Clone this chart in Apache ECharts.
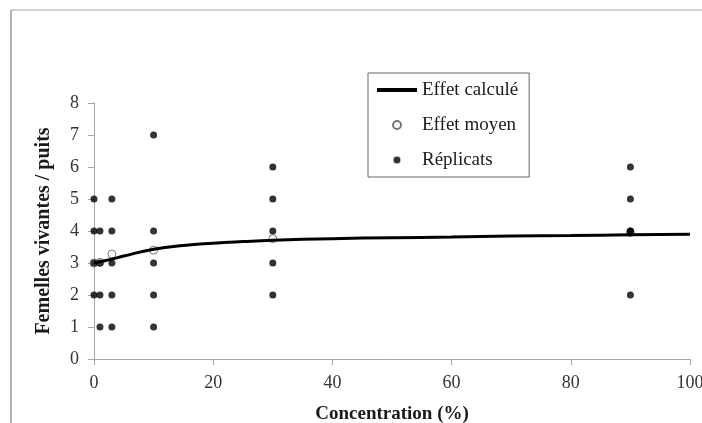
<!DOCTYPE html>
<html lang="fr">
<head>
    <meta charset="UTF-8">
    <title>Femelles vivantes / puits</title>
    <script src="https://cdn.jsdelivr.net/npm/echarts@6/dist/echarts.min.js"></script>
</head>
<body style="margin:0;background:#fff;">
<div id="main" style="width: 702px;height:423px;"></div>
<script type="text/javascript">
    // concentrations testées (%)
    var concentrations = [0, 1, 3, 10, 30, 90];
    // réplicats lus pour chaque concentration
    var rep0 = [5, 4, 3, 2];
    var rep1 = [4, 3, 2, 1];
    var rep3 = [5, 4, 3, 2, 1];
    var rep10 = [7, 4, 3, 2, 1];
    var rep30 = [6, 5, 4, 3, 2];
    var rep90 = [6, 5, 4, 4, 2];
    var replicats = [rep0, rep1, rep3, rep10, rep30, rep90];
    // effet moyen
    var moyennes = [3.0, 3.02, 3.28, 3.4, 3.76, 3.95];
    // effet calculé (courbe)
    var courbeX = [0, 1, 3, 5, 10, 15, 20, 25, 30, 40, 50, 60, 70, 80, 90, 100];
    var courbeY = [3.0, 3.04, 3.12, 3.22, 3.43, 3.55, 3.62, 3.67, 3.71, 3.76, 3.79, 3.81, 3.84, 3.86, 3.88, 3.9];
    var yTicks = [0, 1, 2, 3, 4, 5, 6, 7, 8];
    var xTicks = [0, 20, 40, 60, 80, 100];

    var repData = [];
    for (var i = 0; i < concentrations.length; i++) {
        for (var j = 0; j < replicats[i].length; j++) {
            repData.push([concentrations[i], replicats[i][j]]);
        }
    }
    var moyData = [];
    for (var i = 0; i < concentrations.length; i++) {
        moyData.push([concentrations[i], moyennes[i]]);
    }
    var courbeData = [];
    for (var i = 0; i < courbeX.length; i++) {
        courbeData.push([courbeX[i], courbeY[i]]);
    }

    var serif = '"Liberation Serif", "DejaVu Serif", serif';
    var myChart = echarts.init(document.getElementById('main'), null, {renderer: 'canvas'});
    myChart.setOption({
        animation: false,
        backgroundColor: '#fff',
        grid: {left: 94, right: 12, top: 103, bottom: 64, outerBoundsMode: 'none', containLabel: false},
        graphic: [
            {type: 'line', shape: {x1: 11, y1: 10, x2: 702, y2: 10}, style: {stroke: '#c4c4c4', lineWidth: 1.5}},
            {type: 'line', shape: {x1: 11, y1: 10, x2: 11, y2: 423}, style: {stroke: '#9a9a9a', lineWidth: 1.5}}
        ],
        legend: {
            orient: 'vertical',
            left: 368,
            top: 73,
            padding: [7, 11, 7, 9],
            borderColor: '#666',
            borderWidth: 1,
            itemGap: 15,
            itemWidth: 40,
            itemHeight: 8,
            symbolKeepAspect: true,
            textStyle: {fontFamily: serif, fontSize: 19, color: '#1a1a1a', lineHeight: 20},
            data: [
                {name: 'Effet calculé', icon: 'path://M0,0L40,0L40,4L0,4Z'},
                {name: 'Effet moyen', icon: 'circle'},
                {name: 'Réplicats', icon: 'circle', itemStyle: {borderColor: '#fff', borderWidth: 1}}
            ]
        },
        xAxis: {
            type: 'value',
            min: xTicks[0],
            max: xTicks[xTicks.length - 1],
            interval: 20,
            name: 'Concentration (%)',
            nameLocation: 'middle',
            nameGap: 46,
            nameTextStyle: {fontFamily: serif, fontSize: 19, fontWeight: 'bold', color: '#1a1a1a'},
            splitLine: {show: false},
            axisLine: {lineStyle: {color: '#a6a6a6', width: 1}},
            axisTick: {show: true, length: 6, lineStyle: {color: '#a6a6a6'}},
            axisLabel: {fontFamily: serif, fontSize: 18, color: '#333', margin: 15}
        },
        yAxis: {
            type: 'value',
            min: yTicks[0],
            max: yTicks[yTicks.length - 1],
            interval: 1,
            name: 'Femelles vivantes / puits',
            nameLocation: 'middle',
            nameGap: 40,
            nameTextStyle: {fontFamily: serif, fontSize: 20, fontWeight: 'bold', color: '#1a1a1a'},
            splitLine: {show: false},
            axisLine: {show: true, lineStyle: {color: '#a6a6a6', width: 1}},
            axisTick: {show: true, length: 6, lineStyle: {color: '#a6a6a6'}},
            axisLabel: {fontFamily: serif, fontSize: 18, color: '#333', margin: 15}
        },
        series: [
            {
                name: 'Effet moyen',
                type: 'scatter',
                symbol: 'circle',
                symbolSize: 8,
                z: 1,
                itemStyle: {color: '#fff', borderColor: '#555', borderWidth: 1},
                data: moyData
            },
            {
                name: 'Effet calculé',
                type: 'line',
                smooth: true,
                showSymbol: false,
                symbol: 'none',
                z: 2,
                lineStyle: {color: '#000', width: 3},
                itemStyle: {color: '#000'},
                data: courbeData
            },
            {
                name: 'Réplicats',
                type: 'scatter',
                symbol: 'circle',
                symbolSize: 7,
                z: 3,
                itemStyle: {color: '#000'},
                data: repData
            }
        ]
    });
</script>
</body>
</html>
